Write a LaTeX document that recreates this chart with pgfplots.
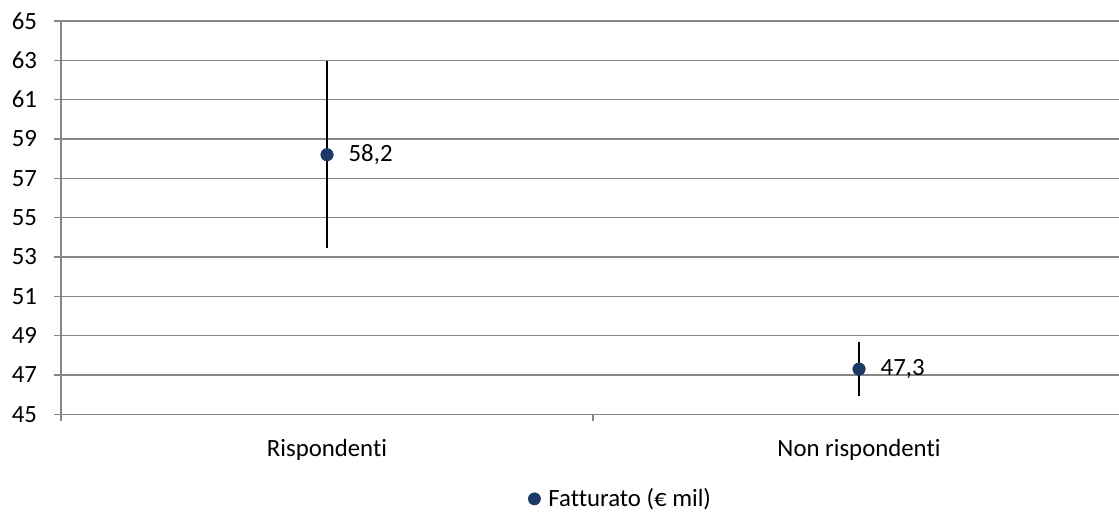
\documentclass[border=0pt]{standalone}
\usepackage{fontspec}
\setmainfont[Ligatures=NoCommon]{Carlito}
\usepackage{pgfplots}
\pgfplotsset{compat=1.18}
\usetikzlibrary{calc}
\definecolor{gridgray}{HTML}{868686}
\definecolor{navy}{HTML}{1B3A66}
\begin{document}
\begin{tikzpicture}[font=\fontsize{12.4}{15}\selectfont]
\begin{axis}[
  scale only axis, width=529pt, height=196.65pt,
  xmin=-0.5, xmax=1.4887, ymin=45, ymax=65,
  ytick={45,47,...,65},
  xtick={-0.5,0.5,1.5}, xticklabels={},
  extra x ticks={0,1},
  extra x tick labels={Rispondenti,Non rispondenti},
  extra x tick style={major tick length=0pt, grid=none,
     tick label style={yshift=-9pt}},
  axis lines*=left,
  ymajorgrids, grid style={gridgray, line width=0.8pt},
  axis line style={gridgray, line width=0.8pt},
  tick style={gridgray, line width=0.8pt},
  tick align=outside, major tick length=3.5pt,
  /pgf/number format/assume math mode=true,
  yticklabel style={xshift=-5pt, black},
  xticklabel style={black},
  legend style={at={(0.53,-0.215)}, anchor=center, draw=none, fill=none,
     font=\fontsize{12.4}{15}\selectfont, inner sep=0pt,
     /tikz/every odd column/.append style={column sep=2pt}},
  legend cell align=left,
]
\addplot[only marks, mark=*, mark size=3pt, navy, mark options={fill=navy, draw=navy},
  error bars/.cd, y dir=both, y explicit, error mark=none,
  error bar style={black, line width=0.85pt}]
  coordinates {(0,58.2) +- (0,4.75) (1,47.3) +- (0,1.39)};
\addlegendentry{Fatturato (€ mil)}
\addplot[only marks, mark=*, mark size=3pt, navy, mark options={fill=navy, draw=navy},
  nodes near coords, forget plot,
  every node near coord/.append style={anchor=west, xshift=7.3pt, black,
    /pgf/number format/use comma, /pgf/number format/fixed,
    /pgf/number format/precision=1, /pgf/number format/fixed zerofill}]
  coordinates {(0,58.2) (1,47.3)};
\end{axis}
\pgfresetboundingbox
\path ($(current axis.south west)+(-30.5pt,-50.35pt)$) rectangle ($(current axis.north east)+(0pt,10.5pt)$);
\end{tikzpicture}
\end{document}
